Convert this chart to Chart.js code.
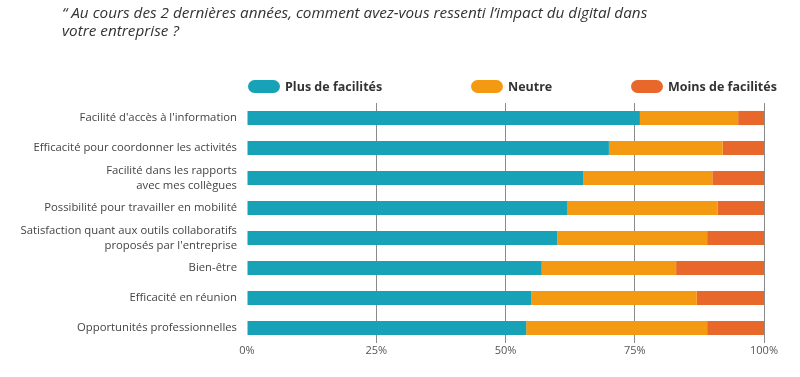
<!DOCTYPE html>
<html lang="fr">
<head>
<meta charset="UTF-8">
<title>Impact du digital</title>
<script src="https://cdn.jsdelivr.net/npm/chart.js"></script>
<style>
  body { margin: 0; background: #fff; }
  #wrap { position: relative; width: 800px; height: 377px; }
  #title { position: absolute; left: 62px; top: 3px; font-family: "Open Sans", sans-serif; font-style: italic;
           font-size: 15.3px; line-height: 18px; color: #333; margin: 0; font-weight: normal; }
  .leg { position: absolute; top: 78px; height: 16px; font-family: "Open Sans", sans-serif; font-weight: bold;
         font-size: 12.5px; color: #333; display: flex; align-items: center; }
  .leg span { display: inline-block; width: 32px; height: 13px; border-radius: 6.5px; margin-right: 5px; }
</style>
</head>
<body>
<div id="wrap">
  <p id="title">“ Au cours des 2 dernières années, comment avez-vous ressenti l’impact du digital dans<br>votre entreprise ?</p>
  <div class="leg" style="left:248px"><span style="background:#17a2b8"></span>Plus de facilités</div>
  <div class="leg" style="left:471px"><span style="background:#f39a12"></span>Neutre</div>
  <div class="leg" style="left:631px"><span style="background:#e8672a"></span>Moins de facilités</div>
  <canvas id="chart" width="800" height="377"></canvas>
</div>
<script>
// categories
const categories = [
  "Facilité d'accès à l'information",
  "Efficacité pour coordonner les activités",
  ["Facilité dans les rapports", "avec mes collègues"],
  "Possibilité pour travailler en mobilité",
  ["Satisfaction quant aux outils collaboratifs", "proposés par l'entreprise"],
  "Bien-être",
  "Efficacité en réunion",
  "Opportunités professionnelles"
];
const plusFacilites  = [76, 70, 65, 62, 60, 57, 55, 54];
const neutre         = [19, 22, 25, 29, 29, 26, 32, 35];
const moinsFacilites = [5, 8, 10, 9, 11, 17, 13, 11];
const xTicks = [0, 25, 50, 75, 100];

const fontFam = "'Open Sans', sans-serif";

new Chart(document.getElementById('chart'), {
  type: 'bar',
  data: {
    labels: categories,
    datasets: [
      { label: 'Plus de facilités', data: plusFacilites, backgroundColor: '#17a2b8' },
      { label: 'Neutre', data: neutre, backgroundColor: '#f39a12' },
      { label: 'Moins de facilités', data: moinsFacilites, backgroundColor: '#e8672a' }
    ]
  },
  options: {
    indexAxis: 'y',
    responsive: false,
    animation: false,
    barPercentage: 0.47,
    categoryPercentage: 1,
    layout: { padding: { top: 103, left: 0, right: 36, bottom: 0 } },
    plugins: { legend: { display: false }, tooltip: { enabled: false } },
    scales: {
      x: {
        stacked: true,
        min: 0, max: 100,
        afterBuildTicks: s => { s.ticks = xTicks.map(v => ({ value: v })); },
        afterFit: s => { s.height = 34; },
        border: { display: false },
        grid: {
          color: c => c.tick && c.tick.value === 0 ? 'rgba(0,0,0,0)' : '#8a8a8a',
          lineWidth: 1,
          drawTicks: false
        },
        ticks: {
          color: '#555', padding: 1,
          font: { family: fontFam, size: 11 },
          callback: v => v + '%'
        }
      },
      y: {
        stacked: true,
        afterFit: s => { s.width = 247; },
        border: { display: false },
        grid: { display: false },
        ticks: {
          color: '#444', padding: 2, autoSkip: false,
          font: { family: fontFam, size: 11.3, lineHeight: 1.3 }
        }
      }
    }
  }
});
</script>
</body>
</html>
